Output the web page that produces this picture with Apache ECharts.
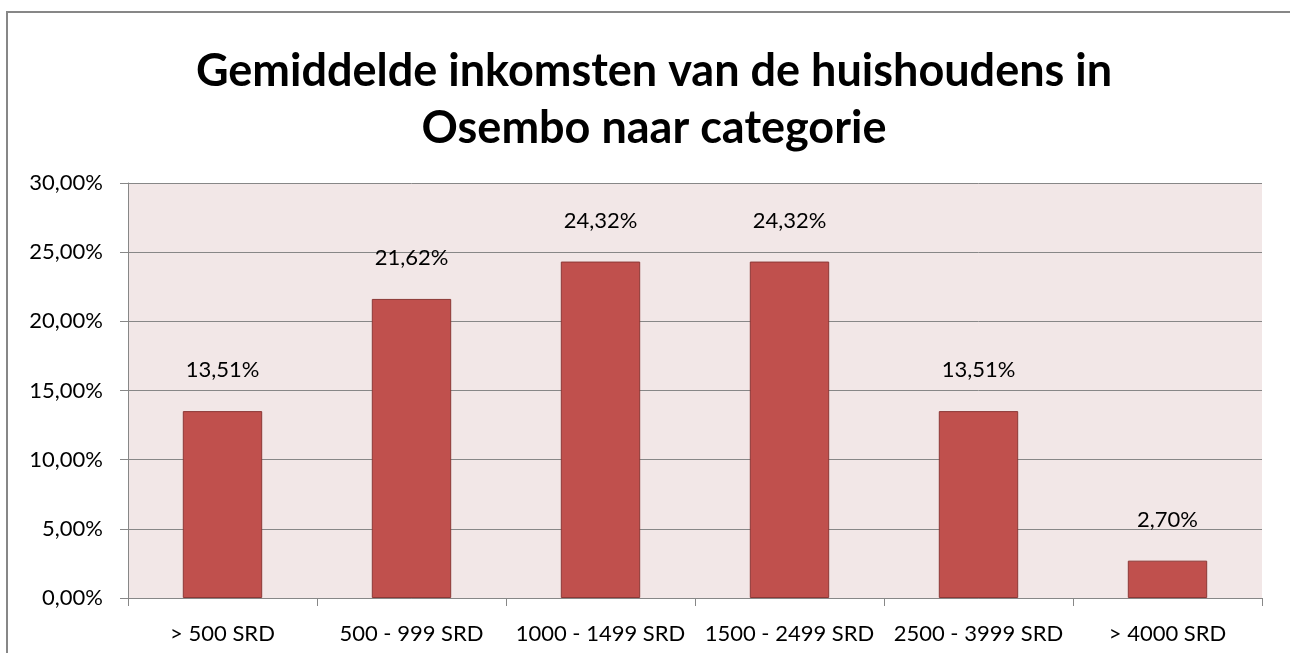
<!DOCTYPE html>
<html>
<head>
<meta charset="utf-8">
<script src="https://cdn.jsdelivr.net/npm/echarts@6/dist/echarts.min.js"></script>
<style>
  html, body { margin: 0; padding: 0; background: #fff; }
  #chart { width: 1290px; height: 653px; }
</style>
</head>
<body>
<div id="chart"></div>
<script>
const categories = ['> 500 SRD', '500 - 999 SRD', '1000 - 1499 SRD', '1500 - 2499 SRD', '2500 - 3999 SRD', '> 4000 SRD'];
const values = [13.51, 21.62, 24.32, 24.32, 13.51, 2.70];
const titleText = 'Gemiddelde inkomsten van de huishoudens in\nOsembo naar categorie';

const fmt = v => v.toFixed(2).replace('.', ',') + '%';
const font = 'Lato, "Open Sans", sans-serif';

const chart = echarts.init(document.getElementById('chart'));
chart.setOption({
  animation: false,
  title: {
    text: titleText,
    left: 649,
    textAlign: 'center',
    top: 38,
    textStyle: { fontFamily: font, fontSize: 45, fontWeight: 'bold', color: '#000', lineHeight: 57 }
  },
  graphic: [{
    type: 'rect',
    shape: { x: 7, y: 12, width: 1300, height: 660 },
    style: { fill: 'none', stroke: '#878787', lineWidth: 2 },
    z: -10
  }],
  grid: {
    left: 128, right: 28, top: 183, bottom: 55,
    show: true, backgroundColor: '#F2E7E7', borderWidth: 0
  },
  xAxis: {
    type: 'category',
    data: categories,
    axisLine: { lineStyle: { color: '#878787', width: 1 } },
    axisTick: { show: true, length: 8, lineStyle: { color: '#878787' } },
    axisLabel: { fontFamily: font, fontSize: 22, color: '#000', margin: 25, interval: 0 }
  },
  yAxis: {
    type: 'value',
    min: 0, max: 30, interval: 5,
    axisLine: { show: true, lineStyle: { color: '#878787' } },
    axisTick: { show: true, length: 8, lineStyle: { color: '#878787' } },
    splitLine: { lineStyle: { color: '#878787', width: 1 } },
    axisLabel: { fontFamily: font, fontSize: 22, color: '#000', margin: 25, formatter: v => fmt(v) }
  },
  series: [{
    type: 'bar',
    data: values,
    barWidth: '42%',
    itemStyle: { color: '#C0504D', borderColor: '#8C3836', borderWidth: 1 },
    label: {
      show: true, position: 'top', distance: 30,
      fontFamily: font, fontSize: 22, color: '#000',
      formatter: p => fmt(p.value)
    }
  }]
});
</script>
</body>
</html>
